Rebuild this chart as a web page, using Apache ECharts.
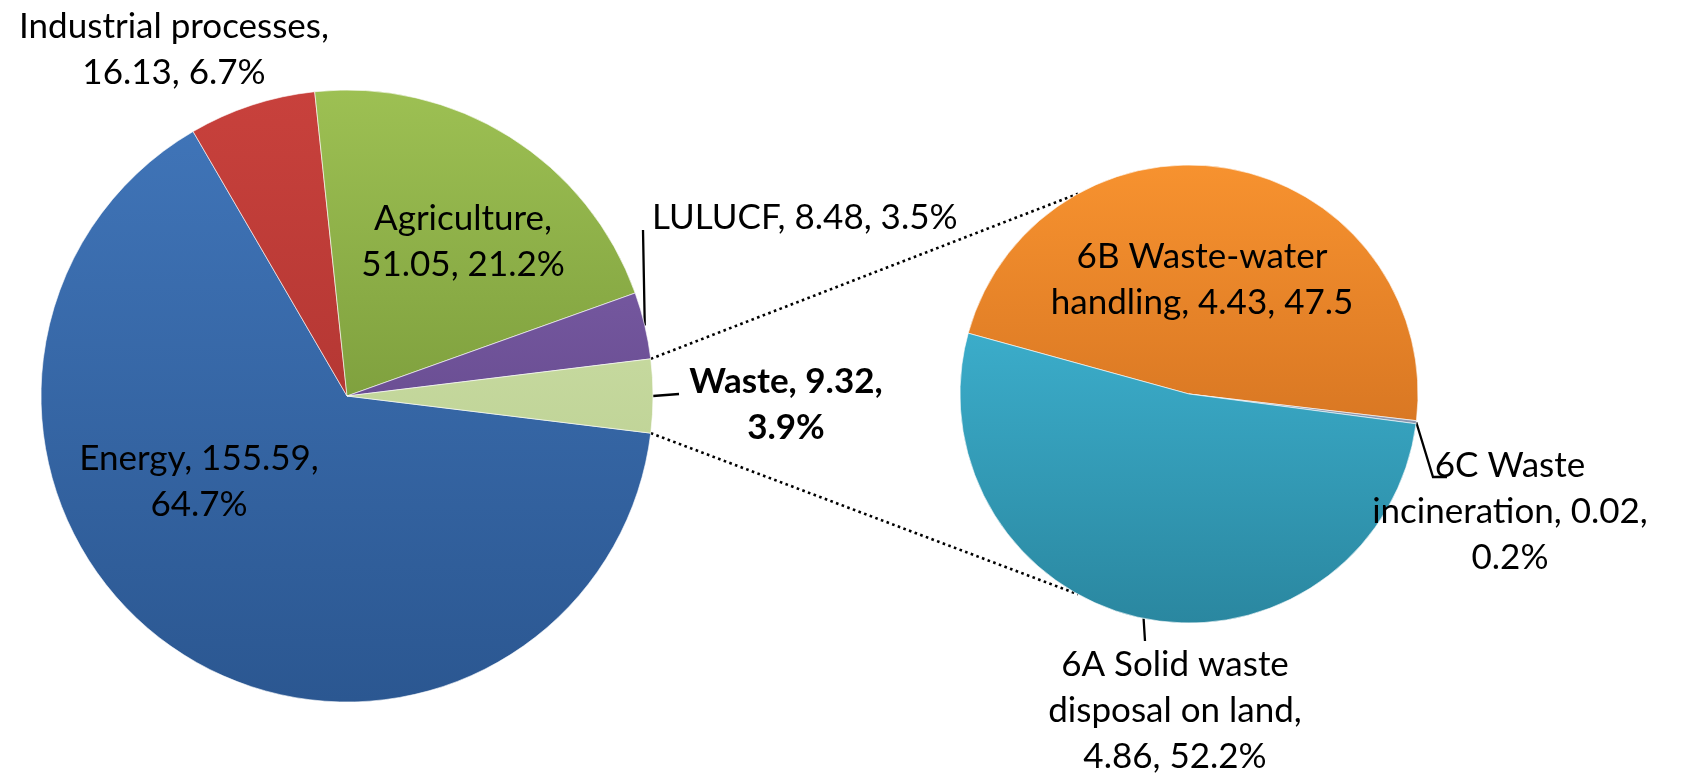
<!DOCTYPE html>
<html>
<head>
<meta charset="utf-8">
<script src="https://cdn.jsdelivr.net/npm/echarts@6/dist/echarts.min.js"></script>
<style>
  html, body { margin: 0; padding: 0; background: #ffffff; }
  #chart { width: 1681px; height: 781px; }
</style>
</head>
<body>
<div id="chart"></div>
<script>
// Emissions by sector (main pie) and the waste sector split into its sub-categories (second pie)
const sectorNames  = ['Energy', 'Industrial processes', 'Agriculture', 'LULUCF', 'Waste'];
const sectorValues = [155.59, 16.13, 51.05, 8.48, 9.32];
const sectorShares = ['64.7%', '6.7%', '21.2%', '3.5%', '3.9%'];

const wasteNames  = ['6B Waste-water handling', '6C Waste incineration', '6A Solid waste disposal on land'];
const wasteValues = [4.43, 0.02, 4.86];
const wasteShares = ['47.5', '0.2%', '52.2%'];

// ---- layout ----
const FONT = 'Lato, "Open Sans", sans-serif';
const FONT_SIZE = 35;
const LINE_H = 46;

const mainPie  = { cx: 347, cy: 396, r: 306 };
const wastePie = { cx: 1189, cy: 394, r: 229, startAngle: 164.6, joinAngle: 119 };

// slice shading: [top colour, bottom colour]
const sliceShades = {
  'Energy':               ['#4176BA', '#2B5791'],
  'Industrial processes': ['#C8413C', '#A22E2B'],
  'Agriculture':          ['#9DC053', '#62822A'],
  'LULUCF':               ['#8566B2', '#513876'],
  'Waste':                ['#D5E7B0', '#B1C686'],
  '6B Waste-water handling':         ['#F7922F', '#C2631A'],
  '6C Waste incineration':           ['#9AA8C0', '#7D8CA6'],
  '6A Solid waste disposal on land': ['#45C2E2', '#2A87A0']
};

// where each label sits, how it wraps, and where its leader line bends
const labelSpots = {
  'Energy':               { x: 199, y: 482, breaks: ['155.59,'] },
  'Industrial processes': { x: 174, y: 50,  breaks: ['processes,'] },
  'Agriculture':          { x: 463, y: 242, breaks: ['Agriculture,'] },
  'LULUCF':               { x: 652, y: 218, align: 'left', breaks: [], line: [[643, 230]] },
  'Waste':                { x: 786, y: 405, bold: true, breaks: ['9.32,'], line: [[679, 394]] },
  '6B Waste-water handling':         { x: 1202, y: 280, breaks: ['Waste-water'] },
  '6C Waste incineration':           { x: 1510, y: 512, breaks: ['Waste', '0.02,'], line: [[1433, 477], [1447, 477]] },
  '6A Solid waste disposal on land': { x: 1175, y: 711, breaks: ['waste', 'land,'], line: [[1145, 641]] }
};

function wrapText(text, breaks) {
  let out = text, from = 0;
  breaks.forEach(b => {
    const i = out.indexOf(b, from);
    if (i < 0) return;
    const cut = i + b.length;
    out = out.slice(0, cut) + '\n' + out.slice(cut).replace(/^ /, '');
    from = cut + 1;
  });
  return out;
}

function shade(name, pie) {
  const c = sliceShades[name];
  return {
    type: 'linear', global: true,
    x: pie.cx, y: pie.cy - pie.r, x2: pie.cx, y2: pie.cy + pie.r,
    colorStops: [{ offset: 0, color: c[0] }, { offset: 1, color: c[1] }]
  };
}

function buildData(names, values, shares, pie) {
  return names.map((n, i) => {
    const spot = labelSpots[n];
    return {
      name: n,
      value: values[i],
      labelText: wrapText(n + ', ' + values[i].toFixed(2) + ', ' + shares[i], spot.breaks),
      itemStyle: { color: shade(n, pie) },
      label: { fontWeight: spot.bold ? 'bold' : 'normal' },
      labelLine: { show: !!spot.line }
    };
  });
}

function pieSeries(names, values, shares, pie, startAngle) {
  return {
    type: 'pie',
    center: [pie.cx, pie.cy],
    radius: [0, pie.r],
    startAngle: startAngle,
    clockwise: true,
    avoidLabelOverlap: false,
    silent: true,
    itemStyle: { borderColor: 'rgba(255,255,255,0.6)', borderWidth: 1 },
    label: {
      show: true,
      position: 'outside',
      color: '#000',
      fontFamily: FONT,
      fontSize: FONT_SIZE,
      lineHeight: LINE_H,
      align: 'center',
      formatter: p => p.data.labelText
    },
    labelLine: {
      show: true, smooth: false, length: 10, length2: 10,
      lineStyle: { color: '#000', width: 2.3 }
    },
    labelLayout: params => {
      const names_ = params.seriesIndex === 0 ? names : names;
      const spot = labelSpots[names_[params.dataIndex]];
      const out = {
        x: spot.x, y: spot.y,
        align: spot.align || 'center',
        verticalAlign: 'middle'
      };
      if (spot.line && params.labelLinePoints) {
        const start = params.labelLinePoints[0];
        const pts = [start].concat(spot.line);
        if (pts.length === 2) {
          pts.splice(1, 0, [(pts[0][0] + pts[1][0]) / 2, (pts[0][1] + pts[1][1]) / 2]);
        }
        out.labelLinePoints = pts;
      }
      return out;
    },
    data: buildData(names, values, shares, pie)
  };
}

const total = sectorValues.reduce((a, b) => a + b, 0);
const wasteIdx = sectorNames.indexOf('Waste');
const halfWaste = sectorValues[wasteIdx] / total * 180;   // degrees either side of 3 o'clock

// series lines joining the waste slice to the second pie
function rim(pie, deg) {
  const a = deg * Math.PI / 180;
  return [pie.cx + pie.r * Math.cos(a), pie.cy - pie.r * Math.sin(a)];
}
const joinTopA = rim(mainPie, halfWaste),  joinTopB = rim(wastePie, wastePie.joinAngle);
const joinBotA = rim(mainPie, -halfWaste), joinBotB = rim(wastePie, -wastePie.joinAngle);
const dotted = { stroke: '#000', lineWidth: 2.6, lineDash: [2.6, 3.4] };

const chart = echarts.init(document.getElementById('chart'), null, { renderer: 'canvas' });
chart.setOption({
  animation: false,
  backgroundColor: '#ffffff',
  series: [
    pieSeries(sectorNames, sectorValues, sectorShares, mainPie, -halfWaste),
    pieSeries(wasteNames, wasteValues, wasteShares, wastePie, wastePie.startAngle)
  ],
  graphic: [
    { type: 'line', silent: true, z: 1,
      shape: { x1: joinTopA[0], y1: joinTopA[1], x2: joinTopB[0], y2: joinTopB[1] }, style: dotted },
    { type: 'line', silent: true, z: 1,
      shape: { x1: joinBotA[0], y1: joinBotA[1], x2: joinBotB[0], y2: joinBotB[1] }, style: dotted }
  ]
});
</script>
</body>
</html>
